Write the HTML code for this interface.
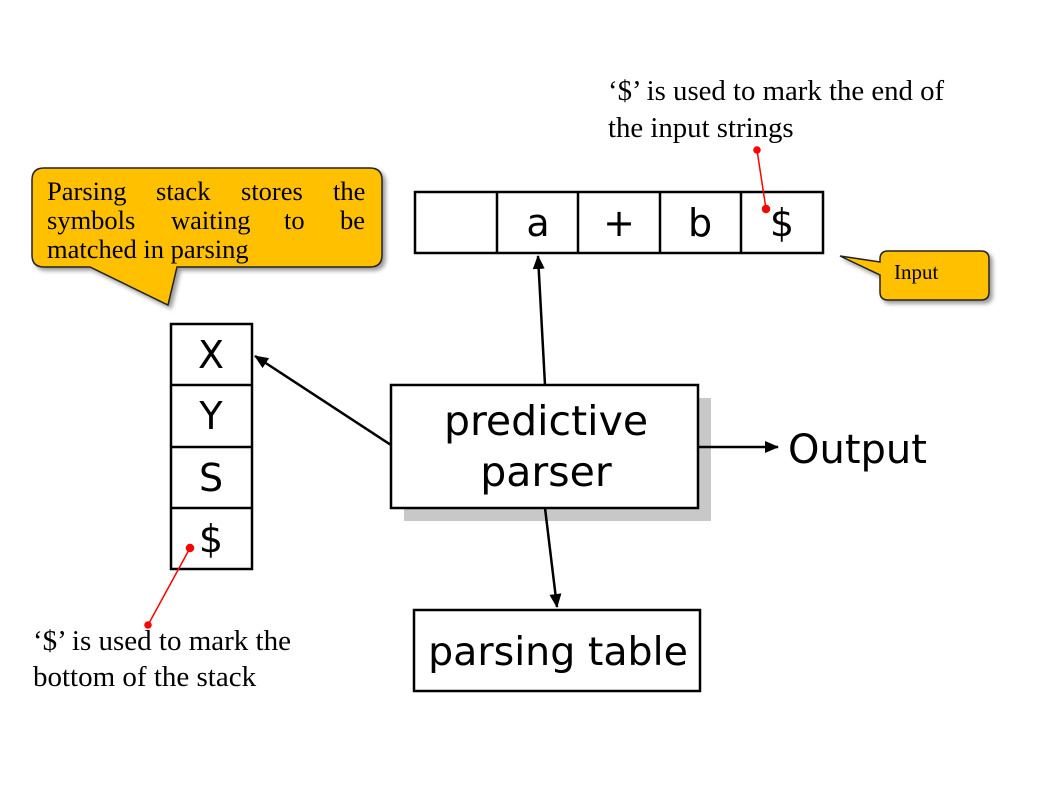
<!DOCTYPE html>
<html><head><style>body{margin:0;background:#fff}svg{display:block}</style></head><body>
<svg width="1037" height="785" xmlns="http://www.w3.org/2000/svg">
<defs><marker id="a" markerWidth="14" markerHeight="12" refX="13" refY="6" orient="auto" markerUnits="userSpaceOnUse"><path d="M0,0 L14,6 L0,12 Z" fill="#000"/></marker>
<filter id="s" x="-10%" y="-10%" width="130%" height="130%"><feDropShadow dx="3" dy="3" stdDeviation="2" flood-opacity="0.4"/></filter></defs>
<g font-family="Liberation Serif, serif" fill="#000">
<text x="608" y="100" font-size="28.8">‘$’ is used to mark the end of</text>
<text x="608" y="137" font-size="28.8">the input strings</text>
<text x="33" y="650" font-size="29">‘$’ is used to mark the</text>
<text x="33" y="686" font-size="29">bottom of the stack</text>
</g>
<path d="M44,168 H370 Q382,168 382,180 V255 Q382,267 370,267 H177 L168,305 L90,267 H44 Q32,267 32,255 V180 Q32,168 44,168 Z" fill="#FFC000" stroke="#222" stroke-width="1.5" filter="url(#s)"/>
<g font-family="Liberation Serif, serif" font-size="26.5">
<text x="47" y="200">Parsing</text><text x="156" y="200">stack</text><text x="241" y="200">stores</text><text x="333" y="200">the</text>
<text x="47" y="229">symbols</text><text x="171" y="229">waiting</text><text x="284" y="229">to</text><text x="340" y="229">be</text>
<text x="47" y="258">matched in parsing</text></g>
<path d="M888,251 H981 Q989,251 989,259 V292 Q989,300 981,300 H888 Q880,300 880,292 V275 L840,256 L880,262 V259 Q880,251 888,251 Z" fill="#FFC000" stroke="#222" stroke-width="1.5" filter="url(#s)"/>
<text x="894" y="279" font-family="Liberation Serif, serif" font-size="21">Input</text>
<g stroke="#000" stroke-width="2.5" fill="none">
<rect x="415" y="192" width="408" height="61"/>
<line x1="497" y1="192" x2="497" y2="253"/><line x1="578" y1="192" x2="578" y2="253"/><line x1="660" y1="192" x2="660" y2="253"/><line x1="741" y1="192" x2="741" y2="253"/>
<rect x="171" y="324" width="81" height="245"/>
<line x1="171" y1="385" x2="252" y2="385"/><line x1="171" y1="447" x2="252" y2="447"/><line x1="171" y1="508" x2="252" y2="508"/>
</g>
<g font-family="DejaVu Sans, sans-serif" font-size="38" text-anchor="middle">
<text x="538" y="236">a</text><text x="619" y="236">+</text><text x="700" y="236">b</text><text x="782" y="236">$</text>
<text x="211" y="368">X</text><text x="211" y="429">Y</text><text x="211" y="491">S</text><text x="211" y="552">$</text>
</g>
<rect x="404" y="398" width="307" height="123" fill="#c8c8c8"/>
<rect x="391" y="385" width="307" height="123" fill="#fff" stroke="#000" stroke-width="2.5"/>
<g font-family="DejaVu Sans, sans-serif" font-size="41" text-anchor="middle">
<text x="546" y="435">predictive</text><text x="546" y="486">parser</text></g>
<text x="558" y="665" font-family="DejaVu Sans, sans-serif" font-size="39.5" text-anchor="middle">parsing table</text>
<text x="788" y="463" font-family="DejaVu Sans, sans-serif" font-size="40">Output</text>
<rect x="414" y="610" width="286" height="81" fill="none" stroke="#000" stroke-width="2.5"/>
<g stroke="#000" stroke-width="2.5" marker-end="url(#a)">
<line x1="545" y1="385" x2="538" y2="256"/>
<line x1="391" y1="445" x2="255" y2="356"/>
<line x1="698" y1="447" x2="778" y2="447"/>
<line x1="545" y1="508" x2="557" y2="607"/>
</g>
<g stroke="red" stroke-width="1.5" fill="red">
<line x1="757" y1="150" x2="766" y2="209"/><circle cx="757" cy="150" r="3"/><circle cx="766" cy="209" r="3.5"/>
<line x1="148" y1="625" x2="190" y2="548"/><circle cx="148" cy="625" r="3"/><circle cx="190" cy="548" r="3.5"/>
</g>
</svg>
</body></html>
